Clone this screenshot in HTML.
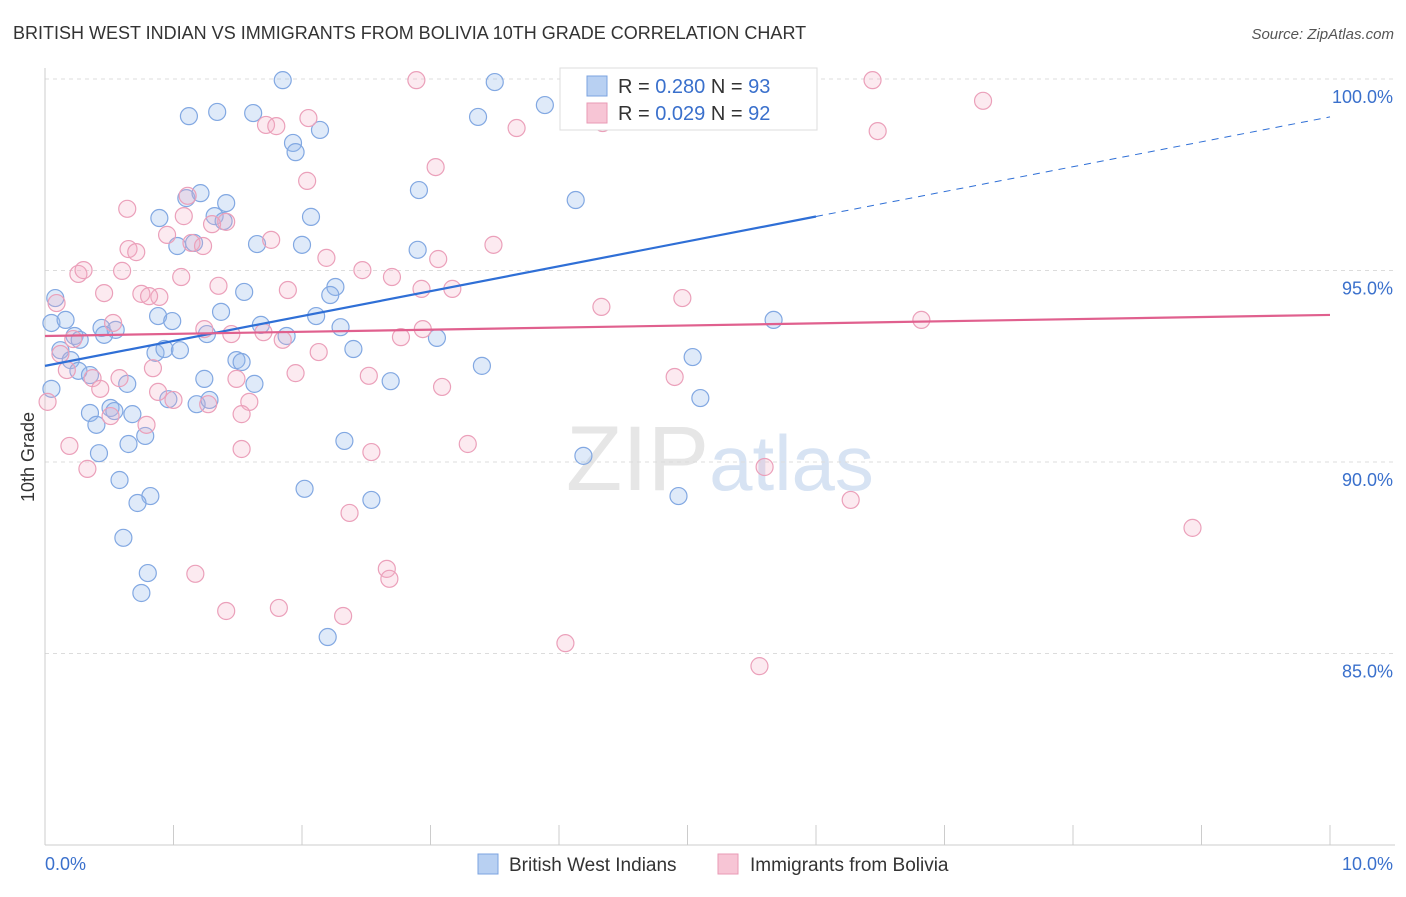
<!DOCTYPE html>
<html><head><meta charset="utf-8"><style>
body{margin:0;background:#fff;font-family:"Liberation Sans",sans-serif;}
svg text{font-family:"Liberation Sans",sans-serif;}
</style></head><body>
<svg id="chart" width="1406" height="892" viewBox="0 0 1406 892" xmlns="http://www.w3.org/2000/svg">
<text x="13" y="39" font-size="18" fill="#333">BRITISH WEST INDIAN VS IMMIGRANTS FROM BOLIVIA 10TH GRADE CORRELATION CHART</text>
<text x="1394" y="39" font-size="15" fill="#555" text-anchor="end" font-style="italic">Source: ZipAtlas.com</text>
<text x="720" y="490" font-size="92" fill="#e6e6e6" text-anchor="middle" font-family="Liberation Serif">ZIP<tspan fill="#d7e3f3" font-family="Liberation Sans" font-size="78">atlas</tspan></text>
<g id="grid"></g>
<g id="axes"></g>
<g id="pts"></g>
<g id="trends"></g>
<text x="34" y="457" font-size="18" fill="#333" text-anchor="middle" transform="rotate(-90 34 457)">10th Grade</text>
<g>
<rect x="560" y="68" width="257" height="62" fill="#fff" stroke="#ddd"/>
<rect x="587" y="76" width="20" height="20" fill="#b8d0f2" stroke="#7ba3e0"/>
<text x="618" y="93" font-size="20" fill="#333">R = <tspan fill="#3a70cc">0.280</tspan>   N = <tspan fill="#3a70cc">93</tspan></text>
<rect x="587" y="103" width="20" height="20" fill="#f7c5d5" stroke="#e99ab5"/>
<text x="618" y="120" font-size="20" fill="#333">R = <tspan fill="#3a70cc">0.029</tspan>   N = <tspan fill="#3a70cc">92</tspan></text>
</g>
<g>
<rect x="478" y="854" width="20" height="20" fill="#b8d0f2" stroke="#7ba3e0"/>
<text x="509" y="871" font-size="19" fill="#333">British West Indians</text>
<rect x="718" y="854" width="20" height="20" fill="#f7c5d5" stroke="#e99ab5"/>
<text x="750" y="871" font-size="19" fill="#333">Immigrants from Bolivia</text>
</g>
</svg>
<script>
const yTicks=[100,95,90,85];
const xTickLabels=["0.0%","10.0%"];
const blueX=[1.85,3.50,5.30,3.89,1.12,1.34,1.62,3.37,2.14,1.93,1.95,2.91,4.13,1.10,1.21,1.41,0.89,1.32,1.39,2.07,1.03,1.16,1.65,2.00,2.90,0.08,1.55,2.26,2.22,1.37,0.88,0.99,0.05,0.16,0.44,0.55,1.68,1.88,2.11,2.30,3.05,1.26,0.23,0.27,0.46,0.12,0.86,0.93,1.05,2.40,1.49,1.53,0.20,0.26,0.35,3.40,0.64,1.24,1.63,2.69,0.05,5.04,5.67,0.96,1.18,1.28,0.51,0.54,0.35,0.68,0.40,0.78,0.65,0.42,2.33,4.19,0.58,0.82,0.72,2.02,2.54,4.93,0.61,0.80,0.75,2.20,5.10];
const blueY=[99.97,99.92,99.97,99.32,99.03,99.14,99.11,99.01,98.67,98.33,98.09,97.10,96.84,96.89,97.02,96.76,96.37,96.42,96.29,96.40,95.64,95.72,95.69,95.67,95.54,94.28,94.44,94.57,94.36,93.92,93.81,93.68,93.63,93.71,93.50,93.45,93.58,93.29,93.81,93.52,93.24,93.34,93.29,93.19,93.32,92.92,92.85,92.95,92.92,92.95,92.66,92.61,92.66,92.38,92.27,92.51,92.04,92.17,92.04,92.11,91.91,92.74,93.71,91.64,91.51,91.62,91.41,91.33,91.28,91.25,90.97,90.68,90.47,90.23,90.55,90.16,89.53,89.11,88.93,89.30,89.01,89.11,88.02,87.10,86.58,85.43,91.67];
const pinkX=[2.89,4.11,6.44,7.30,4.34,3.67,1.72,1.80,2.05,6.48,3.04,2.04,1.11,0.64,1.08,1.41,1.30,0.95,1.76,0.65,0.71,1.14,1.23,2.19,3.49,3.06,0.26,0.30,0.60,1.06,2.47,2.70,1.35,0.46,0.75,0.89,0.81,1.89,2.93,3.17,4.33,4.96,6.82,0.09,0.53,1.24,1.70,1.85,1.45,2.94,2.77,0.22,0.12,2.13,0.84,0.17,0.37,0.58,1.49,1.95,2.52,3.09,4.90,0.02,0.43,0.88,1.00,1.27,1.59,1.53,0.51,0.79,0.19,1.53,2.54,3.29,0.33,5.60,6.27,8.93,2.37,2.66,2.68,1.17,1.41,1.82,2.32,4.05,5.56];
const pinkY=[99.97,99.97,99.97,99.43,98.85,98.72,98.80,98.77,98.98,98.64,97.70,97.34,96.95,96.61,96.42,96.27,96.21,95.93,95.80,95.56,95.48,95.72,95.64,95.33,95.67,95.30,94.91,95.01,94.99,94.83,95.01,94.83,94.60,94.41,94.39,94.31,94.33,94.49,94.52,94.52,94.05,94.28,93.71,94.15,93.63,93.47,93.39,93.19,93.34,93.47,93.26,93.21,92.82,92.87,92.45,92.40,92.19,92.19,92.17,92.32,92.25,91.96,92.22,91.57,91.91,91.83,91.62,91.51,91.57,91.25,91.20,90.97,90.42,90.34,90.26,90.47,89.82,89.87,89.01,88.28,88.67,87.21,86.95,87.08,86.11,86.19,85.98,85.27,84.67];
const blueTrend=[92.51,99.01];
const pinkTrend=[93.29,93.84];
const blueSolidEnd=6.0;

const NS="http://www.w3.org/2000/svg";
const X0=45,X1=1330,Y100=79,PXPER=38.3;
function sx(v){return X0+(X1-X0)*v/10;}
function sy(v){return Y100+(100-v)*PXPER;}
function mk(tag,attrs,parent){const e=document.createElementNS(NS,tag);for(const k in attrs)e.setAttribute(k,attrs[k]);parent.appendChild(e);return e;}
const grid=document.getElementById('grid'),axes=document.getElementById('axes'),pts=document.getElementById('pts'),tr=document.getElementById('trends');
yTicks.forEach(t=>{
 const l=mk('line',{x1:X0,x2:1395,y1:sy(t),y2:sy(t),stroke:'#dcdcdc','stroke-dasharray':'4,4'},grid);
 
 
 const tx=mk('text',{x:1393,y:sy(t)+24,'font-size':18,fill:'#3a70cc','text-anchor':'end'},grid);
 tx.textContent=t.toFixed(1)+'%';
 
 
});
const ax=mk('line',{x1:X0,x2:1395,y1:845,y2:845,stroke:'#ccc'},axes);


const ay=mk('line',{x1:X0,x2:X0,y1:68,y2:845,stroke:'#ccc'},axes);


for(let i=0;i<=10;i++){
 const t=mk('line',{x1:sx(i),x2:sx(i),y1:825,y2:845,stroke:'#ccc'},axes);
 
 
}
xTickLabels.forEach((s,i)=>{
 const t=mk('text',{x:i?1393:45,y:870,'font-size':18,fill:'#3a70cc','text-anchor':i?'end':'start'},axes);
 t.textContent=s;
 
 
});
function drawPts(xs,ys,fill,stroke,name){
 xs.forEach((x,i)=>{
  const c=mk('circle',{cx:sx(x),cy:sy(ys[i]),r:8.5,fill:fill,stroke:stroke,'stroke-width':1.2},pts);
  
  
 });
}
drawPts(blueX,blueY,'rgba(150,185,235,0.3)','#82a8e2','blue-point');
drawPts(pinkX,pinkY,'rgba(242,170,195,0.25)','#eba0ba','pink-point');
function tv(t,x){return t[0]+(t[1]-t[0])*x/10;}
const b1=mk('line',{x1:sx(0),y1:sy(tv(blueTrend,0)),x2:sx(blueSolidEnd),y2:sy(tv(blueTrend,blueSolidEnd)),stroke:'#2f6fd6','stroke-width':2.2},tr);


const b2=mk('line',{x1:sx(blueSolidEnd),y1:sy(tv(blueTrend,blueSolidEnd)),x2:sx(10),y2:sy(tv(blueTrend,10)),stroke:'#2f6fd6','stroke-width':1,'stroke-dasharray':'7,6'},tr);


const p1=mk('line',{x1:sx(0),y1:sy(tv(pinkTrend,0)),x2:sx(10),y2:sy(tv(pinkTrend,10)),stroke:'#e0608e','stroke-width':2.2},tr);


</script>
</body></html>
